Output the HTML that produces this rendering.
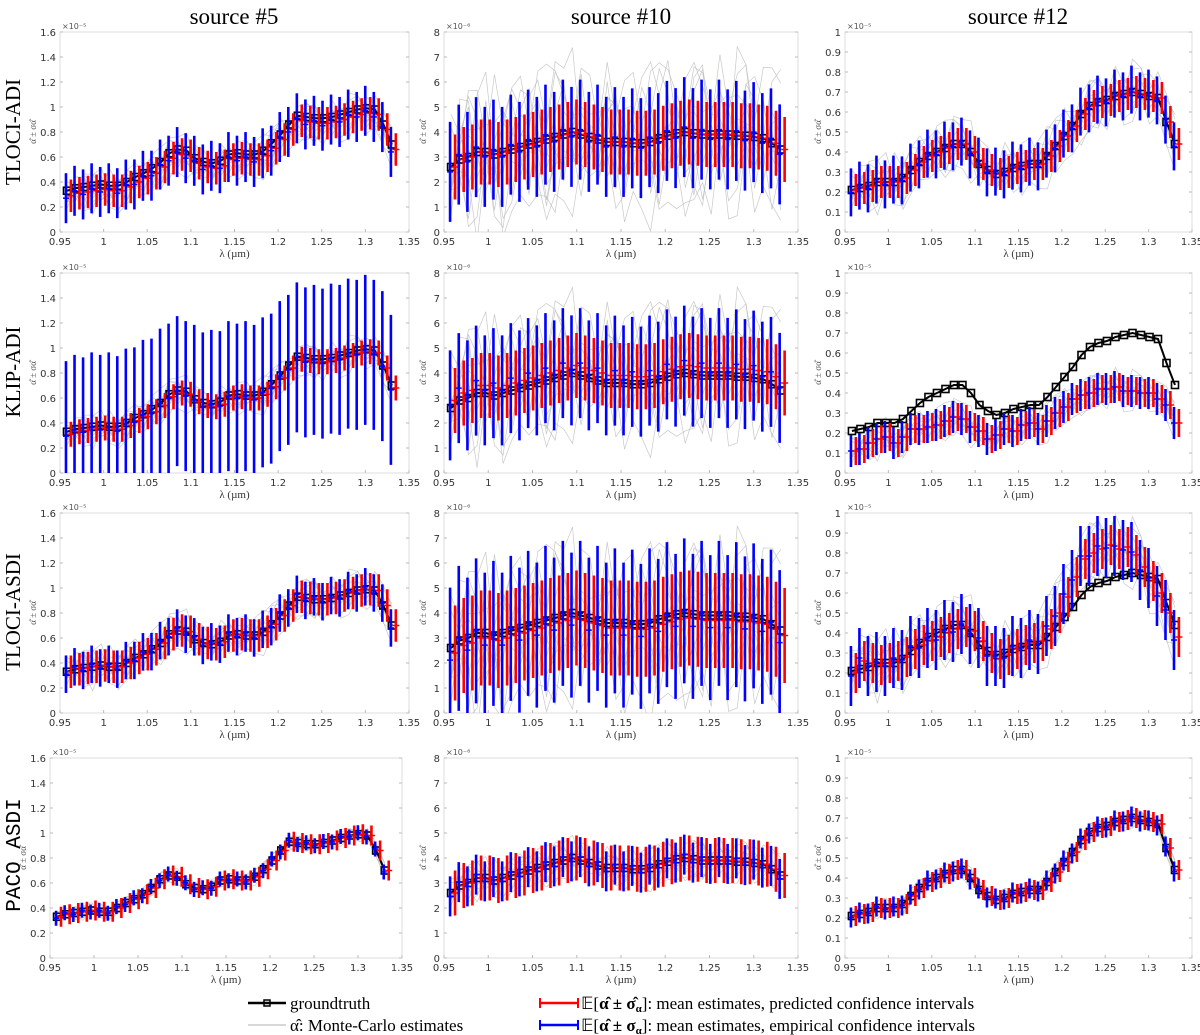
<!DOCTYPE html>
<html><head><meta charset="utf-8">
<style>
html,body{margin:0;padding:0;background:#fff;}
svg{display:block;font-family:"DejaVu Sans","Liberation Sans",sans-serif;}
.serif{font-family:"Liberation Serif",serif;}
</style></head>
<body>
<svg id="fig" width="1200" height="1035" viewBox="0 0 1200 1035" xmlns="http://www.w3.org/2000/svg">
<text class="serif" x="234" y="24" font-size="23" text-anchor="middle">source #5</text>
<text class="serif" x="621" y="24" font-size="23" text-anchor="middle">source #10</text>
<text class="serif" x="1018" y="24" font-size="23" text-anchor="middle">source #12</text>
<text class="serif" font-size="21" text-anchor="middle" transform="translate(20,132) rotate(-90)">TLOCI-ADI</text>
<text class="serif" font-size="21" text-anchor="middle" transform="translate(20,372) rotate(-90)">KLIP-ADI</text>
<text class="serif" font-size="21" text-anchor="middle" transform="translate(20,612) rotate(-90)">TLOCI-ASDI</text>
<text font-family="Liberation Mono,monospace" font-size="21" text-anchor="middle" transform="translate(20,855) rotate(-90)">PACO ASDI</text>
<g id="panels"></g>
<g>
<line x1="248" y1="1003" x2="286" y2="1003" stroke="#000" stroke-width="2.5"/>
<rect x="264" y="1000" width="6" height="6" fill="none" stroke="#000" stroke-width="1.5"/>
<text class="serif" x="290" y="1009" font-size="17">groundtruth</text>
<line x1="248" y1="1025" x2="286" y2="1025" stroke="#ccc" stroke-width="1.5"/>
<text class="serif" x="290" y="1031" font-size="17">α̂: Monte-Carlo estimates</text>
<line x1="540" y1="1003" x2="578" y2="1003" stroke="#f00" stroke-width="2.5"/>
<line x1="540" y1="998" x2="540" y2="1008" stroke="#f00" stroke-width="2"/><line x1="578" y1="998" x2="578" y2="1008" stroke="#f00" stroke-width="2"/>
<text class="serif" x="581" y="1009" font-size="17">𝔼[<tspan font-weight="bold">α̂ ± σ̂<tspan font-size="11" dy="3">α</tspan></tspan><tspan dy="-3">]: mean estimates, predicted confidence intervals</tspan></text>
<line x1="540" y1="1025" x2="578" y2="1025" stroke="#00f" stroke-width="2.5"/>
<line x1="540" y1="1020" x2="540" y2="1030" stroke="#00f" stroke-width="2"/><line x1="578" y1="1020" x2="578" y2="1030" stroke="#00f" stroke-width="2"/>
<text class="serif" x="581" y="1031" font-size="17">𝔼[<tspan font-weight="bold">α̂ ± σ<tspan font-size="11" dy="3">α</tspan></tspan><tspan dy="-3">]: mean estimates, empirical confidence intervals</tspan></text>
</g>
</svg>
<script>
const wavelengths=[0.958,0.9678,0.9776,0.9874,0.9972,1.007,1.0168,1.0266,1.0364,1.0462,1.056,1.0658,1.0756,1.0854,1.0952,1.105,1.1148,1.1246,1.1344,1.1442,1.154,1.1638,1.1736,1.1834,1.1932,1.203,1.2128,1.2226,1.2324,1.2422,1.252,1.2618,1.2716,1.2814,1.2912,1.301,1.3108,1.3206,1.3304];
const gt5=[0.33,0.35,0.36,0.37,0.38,0.37,0.37,0.40,0.44,0.47,0.51,0.56,0.63,0.66,0.65,0.59,0.56,0.55,0.57,0.62,0.63,0.62,0.62,0.65,0.71,0.78,0.86,0.93,0.92,0.91,0.91,0.92,0.94,0.96,0.98,0.99,0.98,0.86,0.70];
const gt10=[2.6,2.9,3.0,3.2,3.2,3.1,3.2,3.3,3.4,3.5,3.6,3.7,3.8,3.9,4.0,3.9,3.8,3.7,3.6,3.6,3.6,3.55,3.55,3.6,3.75,3.85,3.95,4.0,3.95,3.9,3.9,3.9,3.9,3.85,3.85,3.8,3.75,3.55,3.3];
const gt12=[0.21,0.22,0.23,0.25,0.25,0.25,0.27,0.31,0.35,0.38,0.40,0.42,0.44,0.44,0.40,0.34,0.31,0.29,0.30,0.32,0.33,0.34,0.34,0.38,0.43,0.48,0.53,0.59,0.63,0.65,0.66,0.68,0.69,0.70,0.69,0.68,0.67,0.55,0.44];
const mean12klip=[0.11,0.12,0.15,0.17,0.18,0.15,0.18,0.22,0.22,0.23,0.24,0.26,0.28,0.27,0.23,0.21,0.17,0.19,0.22,0.21,0.24,0.25,0.22,0.26,0.30,0.33,0.37,0.39,0.40,0.42,0.42,0.43,0.41,0.41,0.40,0.40,0.37,0.34,0.25];
const mean12tasdi=[0.20,0.26,0.25,0.24,0.25,0.26,0.28,0.32,0.34,0.36,0.38,0.40,0.42,0.43,0.41,0.36,0.30,0.27,0.29,0.32,0.34,0.35,0.36,0.42,0.50,0.58,0.68,0.77,0.80,0.82,0.84,0.82,0.83,0.79,0.73,0.66,0.60,0.50,0.38];
const noise=[0.4,-0.9,0.7,-0.2,1.0,-0.6,0.3,-1.1,0.8,0.1,-0.5,0.9,-0.8,0.2,0.6,-1.0,0.4,-0.3,1.1,-0.7,0.0,0.8,-0.9,0.5,-0.4,0.9,-0.6,0.2,-1.0,0.7,0.3,-0.8,0.6,-0.2,0.9,-0.5,0.1,-0.7,0.5];
const panelGt=[gt5,gt10,gt12];
const yMax=[1.6,8,1];
const yStep=[0.2,1,0.1];
const yExp=["×10⁻⁵","×10⁻⁶","×10⁻⁵"];
const redHalf=[[0.13,1.3,0.08],[0.1,1.3,0.07],[0.13,1.9,0.1],[0.08,0.9,0.05]];
const blueHalf=[[0.2,2.0,0.12],[0.6,2.2,0.08],[0.15,2.9,0.15],[0.06,0.8,0.05]];
const meanBias=[[-0.04,0,0],[-0.02,0.3,0],[0,-0.2,0],[0,0,0]];
const greyAmp=[[0.14,2.6,0.12],[0.12,2.4,0.08],[0.14,2.8,0.14],[0.05,0.7,0.04]];
const xTicks=[0.95,1,1.05,1.1,1.15,1.2,1.25,1.3,1.35];
const colLeft=[60,444,845], colRight=[409,798,1192];
const rowTop=[32,273,513,758], plotH=200;
const NS="http://www.w3.org/2000/svg";
const root=document.getElementById('panels');
function mk(tag,attrs,parent){const e=document.createElementNS(NS,tag);for(const k in attrs)e.setAttribute(k,attrs[k]);parent.appendChild(e);return e;}
for(let r=0;r<4;r++)for(let c=0;c<3;c++){
  const L=(r===3&&c===0)?50:colLeft[c], R=(r===3&&c===0)?402:colRight[c];
  const T=rowTop[r], B=T+plotH;
  const xs=v=>L+(v-0.95)/0.4*(R-L);
  const ys=v=>B-v/yMax[c]*plotH;
  const g=mk('g',{},root);
  
  
  const cp='cp'+r+c;
  const cl=mk('clipPath',{id:cp},g);mk('rect',{x:L,y:T,width:R-L,height:plotH},cl);
  mk('rect',{x:L,y:T,width:R-L,height:plotH,fill:'#fff',stroke:'#ddd','stroke-width':1},g);
  const n=Math.round(yMax[c]/yStep[c]);
  for(let i=0;i<=n;i++){const v=i*yStep[c];const y=ys(v);
    const t=mk('text',{x:L-4,y:y+4,'font-size':10,fill:'#333','text-anchor':'end'},g);t.textContent=(c===1?String(i):(Math.round(v*10)/10).toString());
    
    mk('line',{x1:L,x2:L+3,y1:y,y2:y,stroke:'#bbb'},g);mk('line',{x1:R,x2:R-3,y1:y,y2:y,stroke:'#bbb'},g);}
  for(const v of xTicks){const x=xs(v);
    const t=mk('text',{x:x,y:B+13,'font-size':10,fill:'#333','text-anchor':'middle'},g);t.textContent=String(v);
    
    mk('line',{x1:x,x2:x,y1:B,y2:B-3,stroke:'#bbb'},g);}
  const xl=mk('text',{x:(L+R)/2,y:B+25,'font-size':11,fill:'#333','text-anchor':'middle',class:'serif'},g);xl.textContent='λ (µm)';
  
  const ex=mk('text',{x:L+2,y:T-3,'font-size':8,fill:'#555'},g);ex.textContent=yExp[c];
  
  const yl=mk('text',{'font-size':9,fill:'#555','text-anchor':'middle',class:'serif',transform:`translate(${L-(c===1?18:24)},${T+plotH/2}) rotate(-90)`},g);yl.textContent='α̂ ± σα̂';
  
  const pg=mk('g',{'clip-path':`url(#${cp})`},g);
  const gt=panelGt[c];
  const mean=(r===1&&c===2)?mean12klip:(r===2&&c===2)?mean12tasdi:gt.map(v=>v+meanBias[r][c]);
  for(let k=0;k<12;k++){
    const pts=mean.map((v,i)=>{const nv=noise[(i*(k+2)+k*5)%noise.length];return xs(wavelengths[i])+','+ys(v+greyAmp[r][c]*(0.7*nv+((k%5)-2)*0.3))}).join(' ');
    const pl=mk('polyline',{points:pts,fill:'none',stroke:'#bbb','stroke-width':0.7,opacity:0.8},pg);
    
  }
  const gl=mk('polyline',{points:gt.map((v,i)=>xs(wavelengths[i])+','+ys(v)).join(' '),fill:'none',stroke:'#000','stroke-width':2},pg);
  
  gt.forEach((v,i)=>{const s=mk('rect',{x:xs(wavelengths[i])-3.5,y:ys(v)-3.5,width:7,height:7,fill:'none',stroke:'#000','stroke-width':1.6},pg);
    });
  mean.forEach((m,i)=>{
    const xb=xs(wavelengths[i])-1, xr=xs(wavelengths[i]+0.0045);
    const bm=(r===1&&c===2)?m:(m+(i%2?0.3:-0.3)*redHalf[r][c]*0.5);
    const bl=mk('line',{x1:xb,x2:xb,y1:ys(bm-blueHalf[r][c]),y2:ys(bm+blueHalf[r][c]),stroke:'#0000ff','stroke-width':2.6},pg);
    
    mk('line',{x1:xb-3,x2:xb+3,y1:ys(bm),y2:ys(bm),stroke:'#0000ff','stroke-width':1.5},pg);
    const rl=mk('line',{x1:xr,x2:xr,y1:ys(m-redHalf[r][c]),y2:ys(m+redHalf[r][c]),stroke:'#ff0000','stroke-width':2.6},pg);
    
    mk('line',{x1:xr-3.5,x2:xr+3.5,y1:ys(m),y2:ys(m),stroke:'#ff0000','stroke-width':1.5},pg);
  });
}
</script>
</body></html>
